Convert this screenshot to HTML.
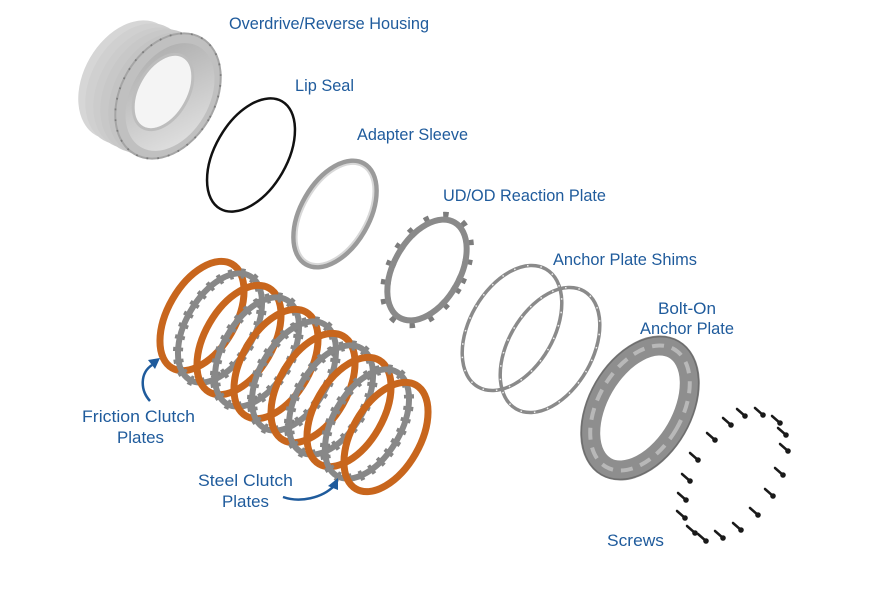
<!DOCTYPE html>
<html><head><meta charset="utf-8"><style>
html,body{margin:0;padding:0;background:#fff;}
svg{display:block;}
text{font-family:"Liberation Sans",sans-serif;font-size:17px;fill:#1f5b9c;}
</style></head><body>
<svg width="874" height="589" viewBox="0 0 874 589" xmlns="http://www.w3.org/2000/svg">
<defs>
<linearGradient id="ig" x1="0" y1="0" x2="1" y2="1">
<stop offset="0" stop-color="#a9a9a9"/><stop offset="1" stop-color="#e6e6e6"/>
</linearGradient>
</defs>
<!-- Housing -->
<g>
<ellipse cx="128" cy="80" rx="44" ry="64" transform="rotate(30 128 80)" fill="#d6d6d6"/>
<ellipse cx="136" cy="84" rx="45" ry="65" transform="rotate(30 136 84)" fill="#d0d0d0"/>
<ellipse cx="144" cy="88" rx="45" ry="65" transform="rotate(30 144 88)" fill="#cccccc"/>
<ellipse cx="152" cy="91" rx="46" ry="66" transform="rotate(30 152 91)" fill="#c8c8c8"/>
<ellipse cx="160" cy="94" rx="46" ry="66" transform="rotate(30 160 94)" fill="#c4c4c4"/>
<ellipse cx="168" cy="96" rx="47" ry="67" transform="rotate(30 168 96)" fill="#c0c0c0" stroke="#a5a5a5" stroke-width="2"/>
<ellipse cx="170" cy="97" rx="39" ry="58" transform="rotate(30 170 97)" fill="url(#ig)"/>
<ellipse cx="163" cy="92" rx="25" ry="41" transform="rotate(30 163 92)" fill="#f4f4f4" stroke="#bdbdbd" stroke-width="3"/>
<ellipse cx="168" cy="96" rx="47" ry="67" transform="rotate(30 168 96)" fill="none" stroke="#7c7c7c" stroke-width="1.8" stroke-dasharray="1.8 9"/>
</g>
<!-- Lip seal -->
<ellipse cx="251" cy="155" rx="36" ry="62" transform="rotate(30 251 155)" fill="none" stroke="#111" stroke-width="2.5"/>
<!-- Adapter sleeve -->
<ellipse cx="335" cy="214" rx="34" ry="58" transform="rotate(30 335 214)" fill="none" stroke="#9a9a9a" stroke-width="5"/>
<ellipse cx="335" cy="214" rx="31" ry="55" transform="rotate(30 335 214)" fill="none" stroke="#d8d8d8" stroke-width="2"/>
<!-- Reaction plate -->
<ellipse cx="427" cy="270" rx="35" ry="58" transform="rotate(30 427 270)" fill="none" stroke="#7d7d7d" stroke-width="10" stroke-dasharray="5 14"/>
<ellipse cx="427" cy="270" rx="33" ry="55" transform="rotate(30 427 270)" fill="none" stroke="#8a8a8a" stroke-width="6"/>
<!-- Shims -->
<ellipse cx="512" cy="328" rx="42" ry="68" transform="rotate(30 512 328)" fill="none" stroke="#8a8a8a" stroke-width="3.5"/>
<ellipse cx="550" cy="350" rx="42" ry="68" transform="rotate(30 550 350)" fill="none" stroke="#8a8a8a" stroke-width="3.5"/>
<ellipse cx="512" cy="328" rx="42" ry="68" transform="rotate(30 512 328)" fill="none" stroke="#eee" stroke-width="1.5" stroke-dasharray="1.5 12"/>
<ellipse cx="550" cy="350" rx="42" ry="68" transform="rotate(30 550 350)" fill="none" stroke="#eee" stroke-width="1.5" stroke-dasharray="1.5 12"/>
<!-- Bolt-on plate -->
<ellipse cx="640" cy="408" rx="42" ry="68" transform="rotate(30 640 408)" fill="none" stroke="#8e8e8e" stroke-width="20"/>
<ellipse cx="640" cy="408" rx="42" ry="68" transform="rotate(30 640 408)" fill="none" stroke="#b8b8b8" stroke-width="4" stroke-dasharray="12 8"/>
<ellipse cx="640" cy="408" rx="51" ry="77" transform="rotate(30 640 408)" fill="none" stroke="#6e6e6e" stroke-width="1.5"/>
<!-- Clutch pack -->
<g fill="none">
<ellipse cx="202" cy="316" rx="34" ry="60" transform="rotate(30 202 316)" stroke="#c8661d" stroke-width="7"/>
<ellipse cx="220" cy="328" rx="34" ry="60" transform="rotate(30 220 328)" stroke="#848484" stroke-width="10" stroke-dasharray="4 8"/>
<ellipse cx="220" cy="328" rx="34" ry="60" transform="rotate(30 220 328)" stroke="#888" stroke-width="6"/>
<ellipse cx="239" cy="340" rx="34" ry="60" transform="rotate(30 239 340)" stroke="#c8661d" stroke-width="7"/>
<ellipse cx="257" cy="352" rx="34" ry="60" transform="rotate(30 257 352)" stroke="#848484" stroke-width="10" stroke-dasharray="4 8"/>
<ellipse cx="257" cy="352" rx="34" ry="60" transform="rotate(30 257 352)" stroke="#888" stroke-width="6"/>
<ellipse cx="276" cy="364" rx="34" ry="60" transform="rotate(30 276 364)" stroke="#c8661d" stroke-width="7"/>
<ellipse cx="294" cy="376" rx="34" ry="60" transform="rotate(30 294 376)" stroke="#848484" stroke-width="10" stroke-dasharray="4 8"/>
<ellipse cx="294" cy="376" rx="34" ry="60" transform="rotate(30 294 376)" stroke="#888" stroke-width="6"/>
<ellipse cx="313" cy="388" rx="34" ry="60" transform="rotate(30 313 388)" stroke="#c8661d" stroke-width="7"/>
<ellipse cx="331" cy="400" rx="34" ry="60" transform="rotate(30 331 400)" stroke="#848484" stroke-width="10" stroke-dasharray="4 8"/>
<ellipse cx="331" cy="400" rx="34" ry="60" transform="rotate(30 331 400)" stroke="#888" stroke-width="6"/>
<ellipse cx="349" cy="412" rx="34" ry="60" transform="rotate(30 349 412)" stroke="#c8661d" stroke-width="7"/>
<ellipse cx="367" cy="424" rx="34" ry="60" transform="rotate(30 367 424)" stroke="#848484" stroke-width="10" stroke-dasharray="4 8"/>
<ellipse cx="367" cy="424" rx="34" ry="60" transform="rotate(30 367 424)" stroke="#888" stroke-width="6"/>
<ellipse cx="386" cy="437" rx="34" ry="60" transform="rotate(30 386 437)" stroke="#c8661d" stroke-width="7"/>
</g>
<!-- Screws -->
<g stroke="#1a1a1a" stroke-width="2.5" stroke-linecap="round">
<line x1="737" y1="409" x2="745" y2="416"/><line x1="755" y1="408" x2="763" y2="415"/>
<line x1="772" y1="416" x2="780" y2="423"/><line x1="778" y1="428" x2="786" y2="435"/>
<line x1="780" y1="444" x2="788" y2="451"/><line x1="775" y1="468" x2="783" y2="475"/>
<line x1="765" y1="489" x2="773" y2="496"/><line x1="750" y1="508" x2="758" y2="515"/>
<line x1="733" y1="523" x2="741" y2="530"/><line x1="715" y1="531" x2="723" y2="538"/>
<line x1="698" y1="534" x2="706" y2="541"/><line x1="687" y1="526" x2="695" y2="533"/>
<line x1="677" y1="511" x2="685" y2="518"/><line x1="678" y1="493" x2="686" y2="500"/>
<line x1="682" y1="474" x2="690" y2="481"/><line x1="690" y1="453" x2="698" y2="460"/>
<line x1="707" y1="433" x2="715" y2="440"/><line x1="723" y1="418" x2="731" y2="425"/>
</g>
<g fill="#1a1a1a">
<circle cx="745" cy="416" r="2.8"/><circle cx="763" cy="415" r="2.8"/><circle cx="780" cy="423" r="2.8"/><circle cx="786" cy="435" r="2.8"/><circle cx="788" cy="451" r="2.8"/><circle cx="783" cy="475" r="2.8"/><circle cx="773" cy="496" r="2.8"/><circle cx="758" cy="515" r="2.8"/><circle cx="741" cy="530" r="2.8"/><circle cx="723" cy="538" r="2.8"/><circle cx="706" cy="541" r="2.8"/><circle cx="695" cy="533" r="2.8"/><circle cx="685" cy="518" r="2.8"/><circle cx="686" cy="500" r="2.8"/><circle cx="690" cy="481" r="2.8"/><circle cx="698" cy="460" r="2.8"/><circle cx="715" cy="440" r="2.8"/><circle cx="731" cy="425" r="2.8"/>
</g>
<!--Arrows -->
<path d="M150,401 C140,390 140,373 152,365" fill="none" stroke="#1f5b9c" stroke-width="2.5"/>
<polygon points="160,358 148,360 155,369" fill="#1f5b9c"/>
<path d="M283,497 C300,503 322,498 334,486" fill="none" stroke="#1f5b9c" stroke-width="2.5"/>
<polygon points="338,478 328,486 338,490" fill="#1f5b9c"/>
<!-- Labels -->
<text x="229" y="29" textLength="200" lengthAdjust="spacingAndGlyphs">Overdrive/Reverse Housing</text>
<text x="295" y="91" textLength="59" lengthAdjust="spacingAndGlyphs">Lip Seal</text>
<text x="357" y="140" textLength="111" lengthAdjust="spacingAndGlyphs">Adapter Sleeve</text>
<text x="443" y="201" textLength="163" lengthAdjust="spacingAndGlyphs">UD/OD Reaction Plate</text>
<text x="553" y="265" textLength="144" lengthAdjust="spacingAndGlyphs">Anchor Plate Shims</text>
<text x="658" y="314" textLength="58" lengthAdjust="spacingAndGlyphs">Bolt-On</text>
<text x="640" y="334" textLength="94" lengthAdjust="spacingAndGlyphs">Anchor Plate</text>
<text x="82" y="422" textLength="113" lengthAdjust="spacingAndGlyphs">Friction Clutch</text>
<text x="117" y="443" textLength="47" lengthAdjust="spacingAndGlyphs">Plates</text>
<text x="198" y="486" textLength="95" lengthAdjust="spacingAndGlyphs">Steel Clutch</text>
<text x="222" y="507" textLength="47" lengthAdjust="spacingAndGlyphs">Plates</text>
<text x="607" y="546" textLength="57" lengthAdjust="spacingAndGlyphs">Screws</text>
</svg>
</body></html>
